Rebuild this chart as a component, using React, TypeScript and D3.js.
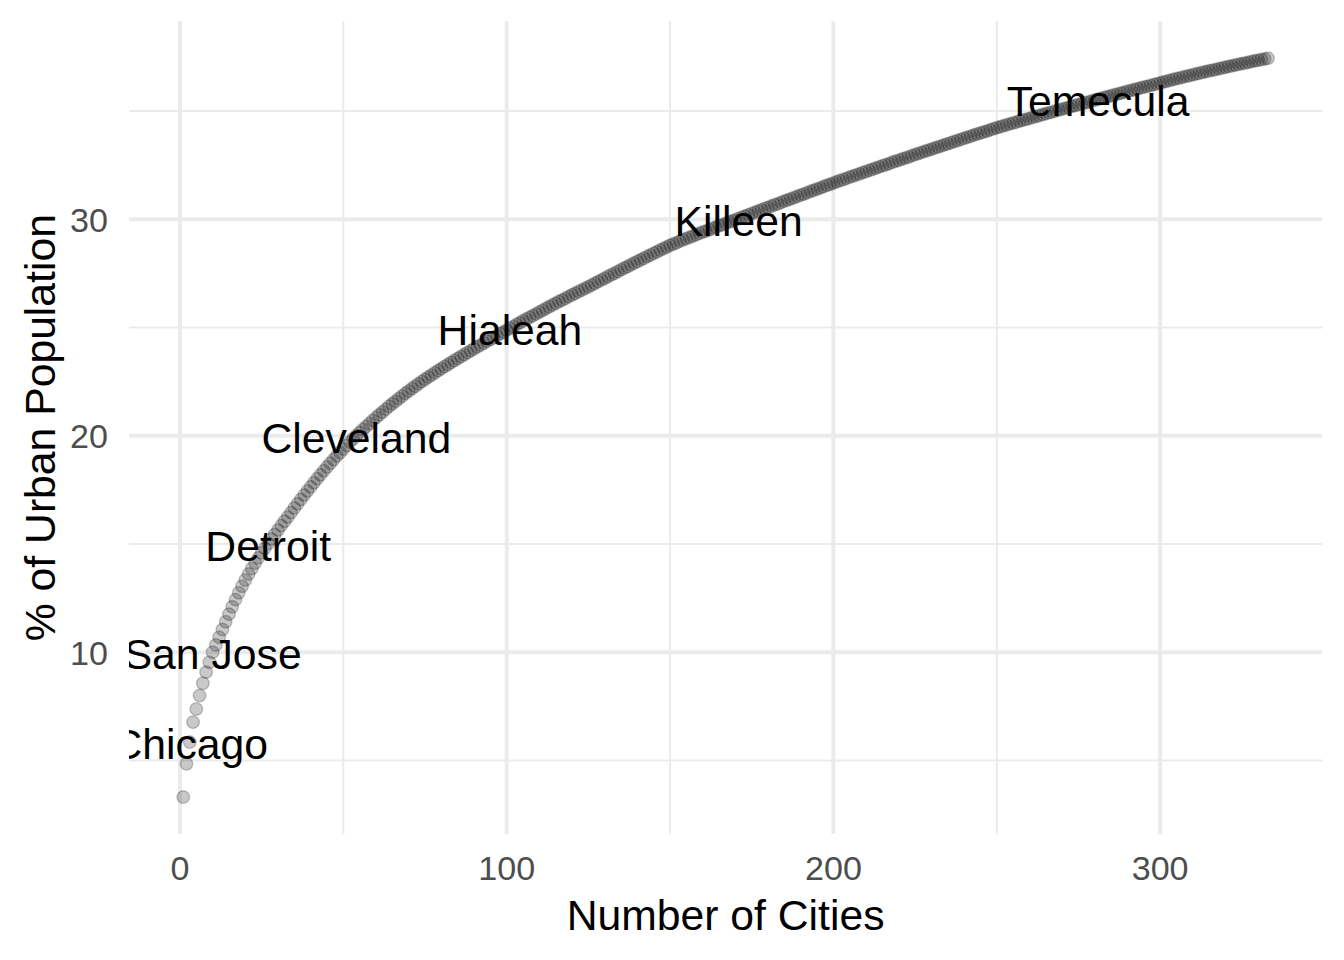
import { useEffect, useRef } from 'react';
import * as d3 from 'd3';

// cumulative share of the urban population, cities ranked by size (1..333)
const cumulativeShare: number[] = [
  3.31, 4.85, 5.85, 6.77, 7.38, 8.00, 8.57, 9.08, 9.54, 10.00,
  10.34, 10.69, 11.05, 11.41, 11.76, 12.10, 12.43, 12.75, 13.05, 13.34,
  13.61, 13.87, 14.12, 14.36, 14.59, 14.81, 15.02, 15.23, 15.44, 15.65,
  15.85, 16.05, 16.25, 16.45, 16.66, 16.86, 17.06, 17.26, 17.45, 17.64,
  17.83, 18.02, 18.20, 18.38, 18.56, 18.73, 18.90, 19.07, 19.23, 19.39,
  19.55, 19.71, 19.86, 20.01, 20.15, 20.29, 20.43, 20.57, 20.71, 20.84,
  20.97, 21.10, 21.23, 21.36, 21.48, 21.60, 21.72, 21.84, 21.96, 22.07,
  22.18, 22.29, 22.40, 22.51, 22.61, 22.71, 22.81, 22.91, 23.01, 23.10,
  23.20, 23.29, 23.39, 23.48, 23.57, 23.66, 23.75, 23.84, 23.93, 24.02,
  24.11, 24.19, 24.28, 24.37, 24.45, 24.54, 24.62, 24.71, 24.79, 24.88,
  24.97, 25.05, 25.14, 25.22, 25.31, 25.39, 25.47, 25.55, 25.63, 25.72,
  25.80, 25.88, 25.96, 26.04, 26.12, 26.20, 26.27, 26.35, 26.43, 26.51,
  26.58, 26.66, 26.73, 26.81, 26.88, 26.96, 27.04, 27.12, 27.20, 27.28,
  27.36, 27.44, 27.51, 27.59, 27.67, 27.75, 27.82, 27.90, 27.98, 28.05,
  28.13, 28.20, 28.28, 28.35, 28.43, 28.50, 28.58, 28.65, 28.72, 28.80,
  28.86, 28.92, 28.99, 29.05, 29.11, 29.17, 29.23, 29.29, 29.35, 29.41,
  29.46, 29.52, 29.58, 29.64, 29.70, 29.75, 29.81, 29.87, 29.92, 29.98,
  30.04, 30.10, 30.15, 30.21, 30.27, 30.32, 30.38, 30.44, 30.50, 30.55,
  30.61, 30.67, 30.72, 30.78, 30.84, 30.89, 30.95, 31.01, 31.06, 31.12,
  31.17, 31.23, 31.29, 31.34, 31.40, 31.45, 31.51, 31.57, 31.62, 31.68,
  31.73, 31.79, 31.84, 31.89, 31.95, 32.00, 32.05, 32.10, 32.16, 32.21,
  32.26, 32.31, 32.37, 32.42, 32.47, 32.52, 32.57, 32.63, 32.68, 32.73,
  32.78, 32.83, 32.88, 32.94, 32.99, 33.04, 33.09, 33.14, 33.19, 33.24,
  33.29, 33.34, 33.39, 33.44, 33.49, 33.54, 33.59, 33.64, 33.69, 33.74,
  33.79, 33.84, 33.89, 33.94, 33.99, 34.03, 34.08, 34.13, 34.18, 34.23,
  34.27, 34.32, 34.36, 34.41, 34.45, 34.49, 34.54, 34.58, 34.62, 34.66,
  34.71, 34.75, 34.79, 34.84, 34.88, 34.92, 34.96, 35.01, 35.05, 35.09,
  35.13, 35.17, 35.22, 35.26, 35.30, 35.34, 35.38, 35.42, 35.46, 35.51,
  35.55, 35.59, 35.63, 35.67, 35.71, 35.75, 35.79, 35.83, 35.87, 35.91,
  35.95, 35.99, 36.03, 36.07, 36.11, 36.14, 36.18, 36.22, 36.26, 36.30,
  36.34, 36.38, 36.42, 36.46, 36.50, 36.53, 36.57, 36.61, 36.64, 36.68,
  36.72, 36.75, 36.79, 36.82, 36.86, 36.89, 36.92, 36.96, 36.99, 37.03,
  37.06, 37.09, 37.13, 37.16, 37.19, 37.22, 37.25, 37.29, 37.32, 37.35,
  37.38, 37.41, 37.44,
];

// labelled cities and their rank
const labelCities = ['Chicago', 'San Jose', 'Detroit', 'Cleveland', 'Hialeah', 'Killeen', 'Temecula'];
const labelRanks = [3, 10, 27, 54, 101, 171, 281];

const xMajor = [0, 100, 200, 300];
const xMinor = [50, 150, 250];
const yMajor = [10, 20, 30];
const yMinor = [5, 15, 25, 35];

const WIDTH = 1344;
const HEIGHT = 960;
const FONT = "'Liberation Sans', Arial, Helvetica, sans-serif";

export default function App() {
  const svgRef = useRef<SVGSVGElement>(null);

  useEffect(() => {
    if (!svgRef.current) return;
    const svg = d3.select(svgRef.current);
    svg.selectAll('*').remove();

    const panel = { left: 129, right: 1322.2, top: 21.3, bottom: 834 };

    const points = cumulativeShare.map((v, i) => ({ rank: i + 1, value: v }));

    // ggplot-style 5% expansion
    const xExt = d3.extent(points, d => d.rank) as [number, number];
    const yExt = d3.extent(points, d => d.value) as [number, number];
    const xPad = (xExt[1] - xExt[0]) * 0.05;
    const yPad = (yExt[1] - yExt[0]) * 0.05;

    const x = d3.scaleLinear()
      .domain([xExt[0] - xPad, xExt[1] + xPad])
      .range([panel.left, panel.right]);
    const y = d3.scaleLinear()
      .domain([yExt[0] - yPad, yExt[1] + yPad])
      .range([panel.bottom, panel.top]);

    const grid = svg.append('g');

    // minor grid
    grid.selectAll('.xminor').data(xMinor).enter().append('line')
      .attr('x1', d => x(d)).attr('x2', d => x(d))
      .attr('y1', panel.top).attr('y2', panel.bottom)
      .attr('stroke', '#ebebeb').attr('stroke-width', 2);
    grid.selectAll('.yminor').data(yMinor).enter().append('line')
      .attr('x1', panel.left).attr('x2', panel.right)
      .attr('y1', d => y(d)).attr('y2', d => y(d))
      .attr('stroke', '#ebebeb').attr('stroke-width', 2);

    // major grid
    grid.selectAll('.xmajor').data(xMajor).enter().append('line')
      .attr('x1', d => x(d)).attr('x2', d => x(d))
      .attr('y1', panel.top).attr('y2', panel.bottom)
      .attr('stroke', '#ebebeb').attr('stroke-width', 4);
    grid.selectAll('.ymajor').data(yMajor).enter().append('line')
      .attr('x1', panel.left).attr('x2', panel.right)
      .attr('y1', d => y(d)).attr('y2', d => y(d))
      .attr('stroke', '#ebebeb').attr('stroke-width', 4);

    // clip to panel like ggplot
    svg.append('defs').append('clipPath').attr('id', 'panel-clip')
      .append('rect')
      .attr('x', panel.left).attr('y', panel.top)
      .attr('width', panel.right - panel.left)
      .attr('height', panel.bottom - panel.top);

    const plot = svg.append('g').attr('clip-path', 'url(#panel-clip)');

    plot.selectAll('circle')
      .data(points)
      .enter()
      .append('circle')
      .attr('cx', d => x(d.rank))
      .attr('cy', d => y(d.value))
      .attr('r', 6.3)
      .attr('fill', '#000')
      .attr('fill-opacity', 0.21)
      .attr('stroke', '#000')
      .attr('stroke-opacity', 0.21)
      .attr('stroke-width', 1.4);

    const labels = labelCities.map((name, i) => ({
      name,
      rank: labelRanks[i],
      value: cumulativeShare[labelRanks[i] - 1],
    }));

    plot.selectAll('.city')
      .data(labels)
      .enter()
      .append('text')
      .attr('x', d => x(d.rank))
      .attr('y', d => y(d.value))
      .attr('dy', '0.4em')
      .attr('text-anchor', 'middle')
      .style('font-family', FONT)
      .style('font-size', '42.7px')
      .style('fill', '#000')
      .text(d => d.name);

    // tick labels
    svg.selectAll('.xtick').data(xMajor).enter().append('text')
      .attr('x', d => x(d))
      .attr('y', 880)
      .attr('text-anchor', 'middle')
      .style('font-family', FONT)
      .style('font-size', '34.1px')
      .style('fill', '#4d4d4d')
      .text(d => d);

    svg.selectAll('.ytick').data(yMajor).enter().append('text')
      .attr('x', 108)
      .attr('y', d => y(d))
      .attr('dy', '0.36em')
      .attr('text-anchor', 'end')
      .style('font-family', FONT)
      .style('font-size', '34.1px')
      .style('fill', '#4d4d4d')
      .text(d => d);

    // axis titles
    svg.append('text')
      .attr('x', (panel.left + panel.right) / 2)
      .attr('y', 930)
      .attr('text-anchor', 'middle')
      .style('font-family', FONT)
      .style('font-size', '42.7px')
      .style('fill', '#000')
      .text('Number of Cities');

    svg.append('text')
      .attr('transform', `translate(55,${(panel.top + panel.bottom) / 2}) rotate(-90)`)
      .attr('text-anchor', 'middle')
      .style('font-family', FONT)
      .style('font-size', '42.7px')
      .style('fill', '#000')
      .text('% of Urban Population');
  }, []);

  return (
    <svg
      ref={svgRef}
      width={WIDTH}
      height={HEIGHT}
      style={{ position: 'absolute', left: 0, top: 0, background: '#fff', display: 'block' }}
    />
  );
}
